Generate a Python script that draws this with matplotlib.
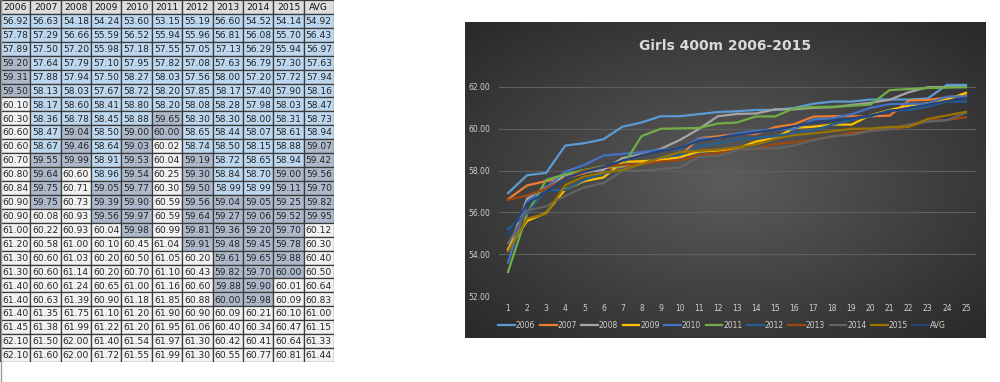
import numpy as np
import matplotlib.pyplot as plt
from matplotlib.patches import Rectangle

# columns of the sheet: the ten seasons plus the average
years = ['2006', '2007', '2008', '2009', '2010', '2011', '2012', '2013', '2014', '2015', 'AVG']
ranks = list(range(1, 26))

t2006 = [56.92, 57.78, 57.89, 59.20, 59.31, 59.50, 60.10, 60.30, 60.60, 60.60, 60.70, 60.80, 60.84,
         60.90, 60.90, 61.00, 61.20, 61.30, 61.30, 61.40, 61.40, 61.40, 61.45, 62.10, 62.10]
t2007 = [56.63, 57.29, 57.50, 57.64, 57.88, 58.13, 58.17, 58.36, 58.47, 58.67, 59.55, 59.64, 59.75,
         59.75, 60.08, 60.22, 60.58, 60.60, 60.60, 60.60, 60.63, 61.35, 61.38, 61.50, 61.60]
t2008 = [54.18, 56.66, 57.20, 57.79, 57.94, 58.03, 58.60, 58.78, 59.04, 59.46, 59.99, 60.60, 60.71,
         60.73, 60.93, 60.93, 61.00, 61.03, 61.14, 61.24, 61.39, 61.75, 61.99, 62.00, 62.00]
t2009 = [54.24, 55.59, 55.98, 57.10, 57.50, 57.67, 58.41, 58.45, 58.50, 58.64, 58.91, 58.96, 59.05,
         59.39, 59.56, 60.04, 60.10, 60.20, 60.20, 60.65, 60.90, 61.10, 61.22, 61.40, 61.72]
t2010 = [53.60, 56.52, 57.18, 57.95, 58.27, 58.72, 58.80, 58.88, 59.00, 59.03, 59.53, 59.54, 59.77,
         59.90, 59.97, 59.98, 60.45, 60.50, 60.70, 61.00, 61.18, 61.20, 61.20, 61.54, 61.55]
t2011 = [53.15, 55.94, 57.55, 57.82, 58.03, 58.20, 58.20, 59.65, 60.00, 60.02, 60.04, 60.25, 60.30,
         60.59, 60.59, 60.99, 61.04, 61.05, 61.10, 61.16, 61.85, 61.90, 61.95, 61.97, 61.99]
t2012 = [55.19, 55.96, 57.05, 57.08, 57.56, 57.85, 58.08, 58.30, 58.65, 58.74, 59.19, 59.30, 59.50,
         59.56, 59.64, 59.81, 59.91, 60.20, 60.43, 60.60, 60.88, 60.90, 61.06, 61.30, 61.30]
t2013 = [56.60, 56.81, 57.13, 57.63, 58.00, 58.17, 58.28, 58.30, 58.44, 58.50, 58.72, 58.84, 58.99,
         59.04, 59.27, 59.36, 59.48, 59.61, 59.82, 59.88, 60.00, 60.09, 60.40, 60.42, 60.55]
t2014 = [54.52, 56.08, 56.29, 56.79, 57.20, 57.40, 57.98, 58.00, 58.07, 58.15, 58.65, 58.70, 58.99,
         59.05, 59.06, 59.20, 59.45, 59.65, 59.70, 59.90, 59.98, 60.21, 60.34, 60.41, 60.77]
t2015 = [54.14, 55.70, 55.94, 57.30, 57.72, 57.90, 58.03, 58.31, 58.61, 58.88, 58.94, 59.00, 59.11,
         59.25, 59.52, 59.70, 59.78, 59.88, 60.00, 60.01, 60.09, 60.10, 60.47, 60.64, 60.81]
t_avg = [54.92, 56.43, 56.97, 57.63, 57.94, 58.16, 58.47, 58.73, 58.94, 59.07, 59.42, 59.56, 59.70,
         59.82, 59.95, 60.12, 60.30, 60.40, 60.50, 60.64, 60.83, 61.00, 61.15, 61.33, 61.44]

series = [t2006, t2007, t2008, t2009, t2010, t2011, t2012, t2013, t2014, t2015, t_avg]
colors = ['#5B9BD5', '#ED7D31', '#A5A5A5', '#FFC000', '#4472C4', '#70AD47',
          '#255E91', '#9E480E', '#636363', '#997300', '#264478']

fig = plt.figure(figsize=(10, 3.82), dpi=100)

# ---- spreadsheet table on the left ----
tab = fig.add_axes([0, 1 - 362 / 382, 334 / 1000, 362 / 382])
tab.set_xlim(0, len(years))
tab.set_ylim(len(ranks) + 1, 0)
tab.axis('off')

def cell_color(v):
    if v < 59:
        return '#BDD7EE'
    if v <= 60:
        return '#ADB9CA'
    return '#F2F2F2'

for c, name in enumerate(years):
    tab.add_patch(Rectangle((c, 0), 1, 1, facecolor='#DDDDDD', edgecolor='#3a3a3a', lw=0.9))
    tab.text(c + 0.5, 0.55, name, ha='center', va='center', fontsize=6.6, color='#111111')
    for r, v in enumerate(series[c]):
        tab.add_patch(Rectangle((c, r + 1), 1, 1, facecolor=cell_color(v),
                                edgecolor='#3a3a3a', lw=0.9))
        tab.text(c + 0.5, r + 1.55, f'{v:.2f}', ha='center', va='center',
                 fontsize=6.6, color='#222222')

# left sheet border running to the bottom
fig.add_artist(plt.Line2D([0.001, 0.001], [0, 1], color='#9a9a9a', lw=1))

# ---- chart on the right ----
bx0, bx1, by0, by1 = 465, 985, 22, 338
bg = fig.add_axes([bx0 / 1000, 1 - by1 / 382, (bx1 - bx0) / 1000, (by1 - by0) / 382])
yy, xx = np.mgrid[-1:1:200j, -1:1:400j]
rr = np.sqrt(xx ** 2 + yy ** 2) / np.sqrt(2)
grad = 0.36 - 0.2 * rr
bg.imshow(np.dstack([grad, grad, grad]), aspect='auto', extent=[0, 1, 0, 1])
bg.set_xticks([])
bg.set_yticks([])
for s in bg.spines.values():
    s.set_visible(False)
bg.text(0.5, 0.925, 'Girls 400m 2006-2015', transform=bg.transAxes, ha='center', va='center',
        fontsize=10, fontweight='bold', color='#D9D9D9')

ax = fig.add_axes([0.4985, 1 - 296 / 382, 0.477, (296 - 80.7) / 382])
ax.patch.set_alpha(0)
for name, vals, col in zip(years, series, colors):
    ax.plot(ranks, vals, color=col, lw=1.6, label=name)

ax.set_xlim(0.5, 25.5)
ax.set_ylim(52, 62.3)
ax.set_yticks(np.arange(52, 63, 2))
ax.set_yticklabels([f'{v:.2f}' for v in np.arange(52, 63, 2)])
ax.set_xticks(ranks)
ax.tick_params(colors='#D0D0D0', labelsize=5.5, length=0, pad=6)
ax.grid(axis='y', color='#5f5f5f', lw=0.8)
ax.set_axisbelow(True)
for s in ax.spines.values():
    s.set_visible(False)

fig.legend(loc='center', bbox_to_anchor=(0.722, 1 - 325 / 382), ncol=11, frameon=False,
           fontsize=5.5, labelcolor='#D0D0D0', handlelength=2.2, handletextpad=0.1,
           columnspacing=0.6)

fig.savefig('out.png', dpi=100)
